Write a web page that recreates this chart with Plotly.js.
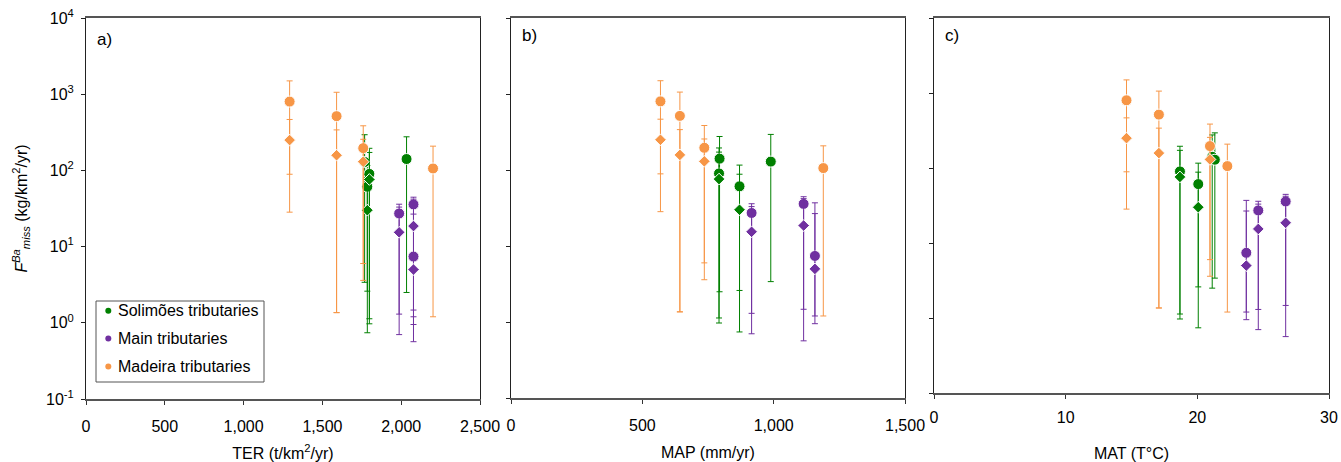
<!DOCTYPE html>
<html>
<head>
<meta charset="utf-8">
<script src="https://cdn.plot.ly/plotly-3.0.1.min.js"></script>
<style>html,body{margin:0;padding:0;background:#fff;}#chart{width:1341px;height:462px;}</style>
</head>
<body>
<div id="chart"></div>
<script>
// ---------- DATA ----------
// Solimões tributaries (4 sites)
var solTER = [2034, 1768, 1798, 1785];
var solMAP = [794, 989, 792, 870];
var solMAT = [21.13, 21.33, 18.68, 20.07];
var solCircle   = [141, 129, 90, 61];
var solCircleHi = [276, 294, 195, 116];
var solCircleLo = [2.5, 3.4, 1.13, 2.6];
var solDiamond   = [null, null, 76, 30];
var solDiamondHi = [null, null, 172, 88];
var solDiamondLo = [null, null, 0.97, 0.74];

// Main tributaries (3 sites)
var mainTER = [1987, 2078, 2078];
var mainMAP = [916, 1114, 1157];
var mainMAT = [24.63, 26.71, 23.72];
var mainCircle   = [27.2, 35.8, 7.4];
var mainCircleHi = [36, 44.5, 37];
var mainCircleLo = [1.3, 1.47, 1.2];
var mainDiamond   = [15.4, 18.6, 5.0];
var mainDiamondHi = [33, 42, 26.7];
var mainDiamondLo = [0.70, 0.565, 0.95];

// Madeira tributaries (4 sites)
var madTER = [1292, 1590, 1759, 2202];
var madMAP = [569, 643, 736, 1189];
var madMAT = [14.62, 17.08, 20.96, 22.28];
var madCircle   = [800, 515, 196, 106];
var madCircleHi = [1495, 1060, 385, 208];
var madCircleLo = [89, 1.36, 6.0, 1.2];
var madDiamond   = [250, 158, 130, null];
var madDiamondHi = [466, 340, 256, null];
var madDiamondLo = [28.3, 1.36, 3.6, null];

var seriesNames = ['Solimões tributaries', 'Main tributaries', 'Madeira tributaries'];
var panelLabels = ['a)', 'b)', 'c)'];
var xTitles = ['TER (t/km<sup>2</sup>/yr)', 'MAP (mm/yr)', 'MAT (T°C)'];
var yTickVals = [0.1, 1, 10, 100, 1000, 10000];
var yTickText = ['10<sup>-1</sup>', '10<sup>0</sup>', '10<sup>1</sup>', '10<sup>2</sup>', '10<sup>3</sup>', '10<sup>4</sup>'];
var terTicks = [0, 500, 1000, 1500, 2000, 2500];
var mapTicks = [0, 500, 1000, 1500];
var matTicks = [0, 10, 20, 30];

// ---------- STYLE ----------
var W = 1341, H = 462;
var FONT = 'Liberation Sans, Arial, Helvetica, sans-serif';
var colors = ['#008000', '#7030A0', '#F79646'];
function px(x) { return x / W; }
function py(y) { return 1 - y / H; }

var series = [
  {x: [solTER, solMAP, solMAT], c: solCircle, cHi: solCircleHi, cLo: solCircleLo, d: solDiamond, dHi: solDiamondHi, dLo: solDiamondLo},
  {x: [mainTER, mainMAP, mainMAT], c: mainCircle, cHi: mainCircleHi, cLo: mainCircleLo, d: mainDiamond, dHi: mainDiamondHi, dLo: mainDiamondLo},
  {x: [madTER, madMAP, madMAT], c: madCircle, cHi: madCircleHi, cLo: madCircleLo, d: madDiamond, dHi: madDiamondHi, dLo: madDiamondLo}
];

function plus(v, hi) { return v.map(function (a, i) { return a == null ? null : hi[i] - a; }); }
function minus(v, lo) { return v.map(function (a, i) { return a == null ? null : a - lo[i]; }); }

var traces = [];
var axSuffix = ['', '2', '3'];
for (var p = 0; p < 3; p++) {
  series.forEach(function (s, k) {
    var common = {
      type: 'scatter', mode: 'markers',
      xaxis: 'x' + axSuffix[p], yaxis: 'y' + axSuffix[p],
      name: seriesNames[k], showlegend: false, cliponaxis: false
    };
    traces.push(Object.assign({}, common, {
      x: s.x[p], y: s.c,
      marker: {symbol: 'circle', size: 11, color: colors[k], line: {color: '#ffffff', width: 1}},
      error_y: {type: 'data', symmetric: false, array: plus(s.c, s.cHi), arrayminus: minus(s.c, s.cLo),
                color: colors[k], thickness: 1, width: 3}
    }));
    traces.push(Object.assign({}, common, {
      x: s.x[p], y: s.d,
      marker: {symbol: 'diamond', size: 9, color: colors[k], line: {color: '#ffffff', width: 1}},
      error_y: {type: 'data', symmetric: false, array: plus(s.d, s.dHi), arrayminus: minus(s.d, s.dLo),
                color: colors[k], thickness: 1, width: 3}
    }));
  });
}

var boxes = [
  {x0: 86, x1: 480, y0: 18, y1: 399},
  {x0: 511, x1: 905, y0: 18, y1: 398},
  {x0: 934, x1: 1329, y0: 18, y1: 393}
];
var xRanges = [[0, 2500], [0, 1500], [0, 30]];
var xTickSets = [terTicks, mapTicks, matTicks];

var layout = {
  width: W, height: H,
  margin: {l: 0, r: 0, t: 0, b: 0},
  paper_bgcolor: '#ffffff', plot_bgcolor: '#ffffff',
  font: {family: FONT, size: 16, color: '#000000'},
  showlegend: false,
  shapes: [], annotations: []
};

for (var q = 0; q < 3; q++) {
  var b = boxes[q];
  layout['xaxis' + axSuffix[q]] = {
    domain: [px(b.x0), px(b.x1)], anchor: 'y' + axSuffix[q],
    range: xRanges[q], tickvals: xTickSets[q], tickformat: ',',
    ticks: 'outside', ticklen: 4, tickcolor: '#333333',
    showline: true, mirror: true, linecolor: '#555555', linewidth: 2,
    showgrid: false, zeroline: false,
    ticklabelstandoff: q === 2 ? 5 : 8,
    tickfont: {family: FONT, size: 16, color: '#000000'},
    title: {text: xTitles[q], font: {family: FONT, size: 16, color: '#000000'}, standoff: q === 2 ? 27 : 14}
  };
  var yax = {
    domain: [py(b.y1), py(b.y0)], anchor: 'x' + axSuffix[q],
    type: 'log', range: [-1, 4],
    tickvals: yTickVals, showticklabels: q === 0,
    ticks: 'outside', ticklen: 4, tickcolor: '#222222',
    showline: true, mirror: true, linecolor: '#222222', linewidth: 1,
    showgrid: false, zeroline: false
  };
  if (q === 0) {
    yax.ticktext = yTickText;
    yax.tickfont = {family: FONT, size: 16, color: '#000000'};
    yax.ticklabelstandoff = 4;
    yax.title = {text: '<i>F</i><sup><i>Ba</i></sup><sub><i>miss</i></sub> (kg/km<sup>2</sup>/yr)',
                 font: {family: FONT, size: 16, color: '#000000'}, standoff: 14};
  }
  layout['yaxis' + axSuffix[q]] = yax;
  layout.annotations.push({
    xref: 'paper', yref: 'paper', x: px(b.x0 + 9), y: py(q === 0 ? 40 : 35),
    xanchor: 'left', yanchor: 'middle', showarrow: false,
    text: panelLabels[q], font: {family: FONT, size: 17, color: '#000000'}
  });
}

// legend box (drawn to match the reference's compact key)
var legL = 96, legR = 264, legT = 301, legB = 382;
layout.shapes.push({type: 'rect', xref: 'paper', yref: 'paper',
  x0: px(legL), x1: px(legR), y0: py(legB), y1: py(legT),
  line: {color: '#555555', width: 1}, fillcolor: '#ffffff', layer: 'above'});
var rowY = [310.7, 338.5, 366.5];
for (var r = 0; r < 3; r++) {
  layout.shapes.push({type: 'circle', xref: 'paper', yref: 'paper',
    x0: px(108.3 - 3), x1: px(108.3 + 3), y0: py(rowY[r] + 3), y1: py(rowY[r] - 3),
    line: {width: 0}, fillcolor: colors[r], layer: 'above'});
  layout.annotations.push({xref: 'paper', yref: 'paper', x: px(115.5), y: py(rowY[r]),
    xanchor: 'left', yanchor: 'middle', showarrow: false,
    text: seriesNames[r], font: {family: FONT, size: 16, color: '#000000'}});
}

Plotly.newPlot('chart', traces, layout, {staticPlot: true, displayModeBar: false});
</script>
</body>
</html>
